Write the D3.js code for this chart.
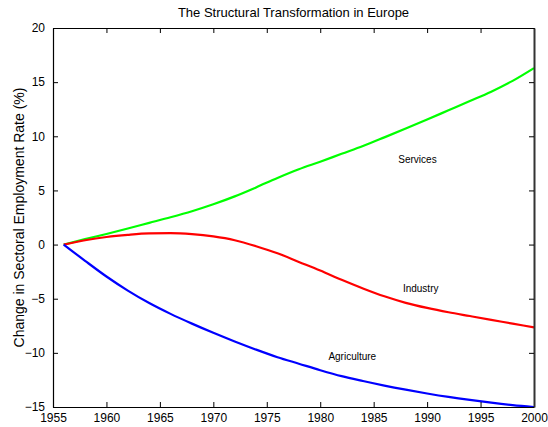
<!DOCTYPE html>
<html>
<head>
<meta charset="utf-8">
<script src="https://cdn.jsdelivr.net/npm/d3@7"></script>
<style>
  html, body { margin: 0; padding: 0; background: #fff; }
  svg { display: block; font-family: "Liberation Sans", Arial, sans-serif; }
</style>
</head>
<body>
<svg id="chart" width="548" height="427"></svg>
<script>
const years = [1956,1958,1960,1962,1964,1966,1968,1970,1972,1974,1976,1978,1980,1982,1984,1986,1988,1990,1992,1994,1996,1998,2000];
const services = [0,0.5,0.98,1.48,2.0,2.52,3.08,3.72,4.45,5.28,6.15,6.95,7.65,8.38,9.1,9.9,10.72,11.55,12.4,13.25,14.12,15.12,16.3];
const industry = [0,0.4,0.7,0.9,1.03,1.05,0.96,0.75,0.4,-0.15,-0.8,-1.6,-2.4,-3.25,-4.05,-4.78,-5.38,-5.85,-6.25,-6.6,-6.95,-7.3,-7.65];
const agriculture = [0,-1.5,-2.95,-4.25,-5.4,-6.4,-7.3,-8.15,-8.95,-9.7,-10.4,-11.0,-11.6,-12.15,-12.6,-13.02,-13.4,-13.75,-14.07,-14.35,-14.6,-14.82,-15.0];
const xTicks = [1955,1960,1965,1970,1975,1980,1985,1990,1995,2000];
const yTicks = [-15,-10,-5,0,5,10,15,20];
const seriesNames = ["Services","Industry","Agriculture"];
const seriesColors = ["#00ff00","#ff0000","#0000ff"];
const labelPos = [[1989.1, 7.55],[1989.4, -4.4],[1983.0, -10.7]];

const svg = d3.select("#chart");
const m = {left: 53, right: 534, top: 28, bottom: 407};
const x = d3.scaleLinear().domain([1955, 2000]).range([m.left, m.right]);
const y = d3.scaleLinear().domain([-15, 20]).range([m.bottom, m.top]);

const seriesData = [services, industry, agriculture];
const line = d3.line().curve(d3.curveMonotoneX).x((d, i) => x(years[i])).y(d => y(d));

seriesData.forEach((s, k) => {
  svg.append("path").datum(s)
    .attr("d", line)
    .attr("fill", "none")
    .attr("stroke", seriesColors[k])
    .attr("stroke-width", 2.2)
    .attr("stroke-linejoin", "round");
});

// axes
const gBottom = svg.append("g").attr("transform", `translate(0,${m.bottom})`)
  .call(d3.axisBottom(x).tickValues(xTicks).tickFormat(d3.format("d")).tickSizeInner(-5).tickSizeOuter(0).tickPadding(8));
const gTop = svg.append("g").attr("transform", `translate(0,${m.top})`)
  .call(d3.axisTop(x).tickValues(xTicks).tickFormat("").tickSizeInner(-5).tickSizeOuter(0));
const gLeft = svg.append("g").attr("transform", `translate(${m.left},0)`)
  .call(d3.axisLeft(y).tickValues(yTicks).tickSizeInner(-5).tickSizeOuter(0).tickPadding(8));
const gRight = svg.append("g").attr("transform", `translate(${m.right},0)`)
  .call(d3.axisRight(y).tickValues(yTicks).tickFormat("").tickSizeInner(-5).tickSizeOuter(0));

[gBottom, gTop, gLeft, gRight].forEach(g => {
  g.selectAll("path.domain").attr("stroke", "#000").attr("stroke-width", 1.2);
  g.selectAll(".tick line").attr("stroke", "#000");
  g.selectAll("text").attr("fill", "#000").style("font-size", "12px").style("font-family", "Liberation Sans, Arial, sans-serif");
});
gRight.select("path.domain").attr("stroke", "#333").attr("stroke-width", 2);
gBottom.selectAll("text").attr("dy", "0.55em");

// title
svg.append("text").attr("x", (m.left + m.right) / 2).attr("y", 17)
  .attr("text-anchor", "middle").style("font-size", "13px").text("The Structural Transformation in Europe");

// y label
svg.append("text").attr("transform", `translate(24,${(m.top + m.bottom) / 2}) rotate(-90)`)
  .attr("text-anchor", "middle").style("font-size", "14px").text("Change in Sectoral Employment Rate (%)");

// series labels
seriesNames.forEach((n, k) => {
  svg.append("text").attr("x", x(labelPos[k][0])).attr("y", y(labelPos[k][1]))
    .attr("text-anchor", "middle").style("font-size", "10px").attr("fill", "#000").text(n);
});
</script>
</body>
</html>
